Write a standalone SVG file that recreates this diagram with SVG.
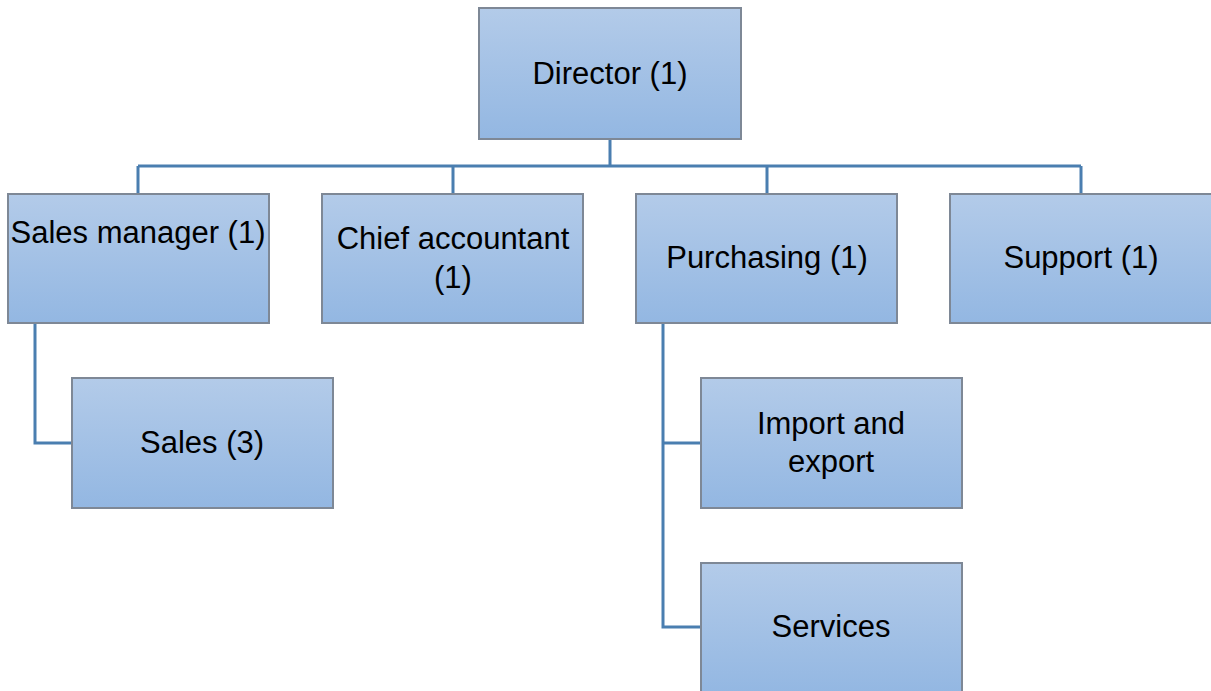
<svg xmlns="http://www.w3.org/2000/svg" width="1211" height="691" viewBox="0 0 1211 691">
<defs>
<linearGradient id="g" x1="0" y1="0" x2="0" y2="1">
<stop offset="0" stop-color="#b3cbe9"/>
<stop offset="1" stop-color="#93b7e2"/>
</linearGradient>
<style>
.box{fill:url(#g);stroke:#7e8896;stroke-width:2}
.t{font-family:"Liberation Sans",Arial,sans-serif;font-size:31px;fill:#000;text-anchor:middle}
.c{fill:none;stroke:#4a7eb0;stroke-width:3}
</style>
</defs>
<rect width="1211" height="691" fill="#fff"/>
<g id="connectors">
<path class="c" d="M610 139V166M138 166H1081M138 166V194M453 166V194M767 166V194M1081 166V194"/>
<path class="c" d="M35 323V443H72"/>
<path class="c" d="M663 323V627H701M663 443H701"/>
</g>
<g id="director"><rect class="box" x="479" y="8" width="262" height="131"/><text class="t" x="610" y="84">Director (1)</text></g>
<g id="sales-manager"><rect class="box" x="8" y="194" width="261" height="129"/><text class="t" x="138" y="243">Sales manager (1)</text></g>
<g id="chief-accountant"><rect class="box" x="322" y="194" width="261" height="129"/><text class="t" x="453" y="249">Chief accountant</text><text class="t" x="453" y="288">(1)</text></g>
<g id="purchasing"><rect class="box" x="636" y="194" width="261" height="129"/><text class="t" x="767" y="268">Purchasing (1)</text></g>
<g id="support"><rect class="box" x="950" y="194" width="262" height="129"/><text class="t" x="1081" y="268">Support (1)</text></g>
<g id="sales"><rect class="box" x="72" y="378" width="261" height="130"/><text class="t" x="202" y="453">Sales (3)</text></g>
<g id="import-export"><rect class="box" x="701" y="378" width="261" height="130"/><text class="t" x="831" y="434">Import and</text><text class="t" x="831" y="472">export</text></g>
<g id="services"><rect class="box" x="701" y="563" width="261" height="130"/><text class="t" x="831" y="637">Services</text></g>
</svg>
